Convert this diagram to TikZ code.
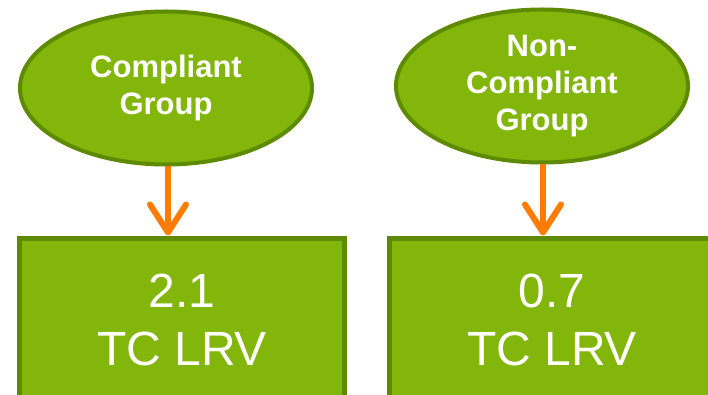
\documentclass[tikz,border=0pt]{standalone}
\usepackage{fontspec}
\setmainfont{Liberation Sans}
\usetikzlibrary{shapes.geometric,arrows.meta}
\definecolor{leaf}{HTML}{82B60A}
\definecolor{leafdark}{HTML}{5E8A00}
\definecolor{flow}{HTML}{FF7C00}
\tikzset{
  group/.style={ellipse,draw=leafdark,fill=leaf,line width=4pt,inner sep=0pt,
    minimum width=292pt,minimum height=153pt,text=white,align=center,
    font=\fontsize{31}{37}\selectfont\bfseries},
  result/.style={rectangle,draw=leafdark,fill=leaf,line width=5pt,inner sep=0pt,
    minimum width=325pt,minimum height=164pt,text=white,align=center,
    font=\fontsize{48}{58}\selectfont},
  link/.style={draw=flow,line width=6pt,-{Straight Barb[length=28pt,width=36pt,round]}}
}
\begin{document}
\begin{tikzpicture}[x=1pt,y=-1pt]
\useasboundingbox (0,0) rectangle (708,395);
\clip (0,0) rectangle (708,395);
\node[group] (g1) at (166,88) {Compliant\\Group};
\node[group] (g2) at (542,86) {Non-\\Compliant\\Group};
\node[result] (r1) at (182,320) {2.1\\TC LRV};
\node[result] (r2) at (552,320) {0.7\\TC LRV};
\draw[link] (g1.south) ++(2,0) coordinate (a1) -- (a1 |- r1.north);
\draw[link] (g2.south) ++(1,0) coordinate (a2) -- (a2 |- r2.north);
\end{tikzpicture}
\end{document}
